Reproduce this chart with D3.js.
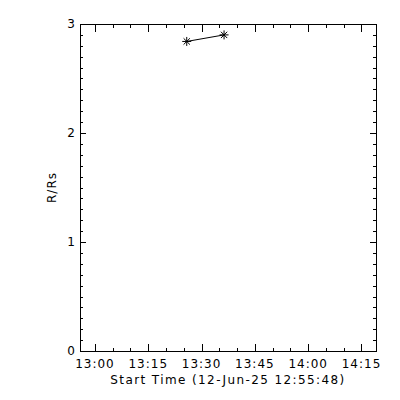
<!DOCTYPE html>
<html lang="en">
<head>
    <meta charset="UTF-8">
    <title>R/Rs vs time</title>
    <script src="https://d3js.org/d3.v7.min.js"></script>
    <style>
        body { margin: 0; background: #fff; }
        text { font-family: "DejaVu Sans", sans-serif; font-size: 12px; fill: #000; letter-spacing: 1px; }
        text.title { letter-spacing: 1.4px; }
    </style>
</head>
<body>
<svg id="chart" width="400" height="400"></svg>
<script>
    // data
    const startLabel = '12-Jun-25 12:55:48';
    const domainStart = '2025-06-12 12:55:48';
    const domainEnd = '2025-06-12 14:19:05';
    const times = ['2025-06-12 13:25:50', '2025-06-12 13:36:20'];
    const heights = [2.84, 2.90];
    const yTicks = [0, 1, 2, 3];

    const parse = d3.utcParse('%Y-%m-%d %H:%M:%S');
    const points = times.map((t, i) => ({ t: parse(t), r: heights[i] }));

    const svg = d3.select('#chart');
    const mLeft = 80, mRight = 376, mTop = 24, mBottom = 351;

    const x = d3.scaleUtc().domain([parse(domainStart), parse(domainEnd)]).range([mLeft, mRight]);
    const y = d3.scaleLinear().domain([0, 3]).range([mBottom, mTop]);

    const g = svg.append('g').attr('shape-rendering', 'crispEdges');

    // box
    g.append('rect')
        .attr('x', mLeft + 0.5).attr('y', mTop + 0.5)
        .attr('width', mRight - mLeft).attr('height', mBottom - mTop)
        .attr('fill', 'none').attr('stroke', '#000');

    // x ticks, bottom and top
    const xMajor = x.ticks(d3.utcMinute.every(15));
    const xMinor = x.ticks(d3.utcMinute.every(5));
    xMinor.forEach(d => {
        const big = xMajor.some(m => +m === +d);
        const len = big ? 7 : 3;
        const px = Math.round(x(d)) + 0.5;
        g.append('line').attr('x1', px).attr('x2', px).attr('y1', mBottom).attr('y2', mBottom - len).attr('stroke', '#000');
        g.append('line').attr('x1', px).attr('x2', px).attr('y1', mTop + 1).attr('y2', mTop + 1 + len).attr('stroke', '#000');
    });
    svg.selectAll('.xlab').data(xMajor).enter().append('text')
        .attr('x', d => x(d)).attr('y', 368)
        .attr('text-anchor', 'middle')
        .text(d3.utcFormat('%H:%M'));

    // y ticks, left and right
    const yMinor = d3.range(0, 31).map(i => i / 10);
    yMinor.forEach(d => {
        const big = yTicks.includes(d);
        const len = big ? 6 : 3;
        const py = Math.round(y(d)) + 0.5;
        g.append('line').attr('x1', mLeft).attr('x2', mLeft + len).attr('y1', py).attr('y2', py).attr('stroke', '#000');
        g.append('line').attr('x1', mRight).attr('x2', mRight - len).attr('y1', py).attr('y2', py).attr('stroke', '#000');
    });
    svg.selectAll('.ylab').data(yTicks).enter().append('text')
        .attr('x', 76).attr('y', d => y(d) + 4)
        .attr('text-anchor', 'end')
        .text(d => d);

    // axis titles
    svg.append('text').attr('class', 'title')
        .attr('x', (mLeft + mRight) / 2).attr('y', 384)
        .attr('text-anchor', 'middle')
        .text(`Start Time (${startLabel})`);
    svg.append('text')
        .attr('transform', `translate(56,${(mTop + mBottom) / 2}) rotate(-90)`)
        .attr('text-anchor', 'middle')
        .text('R/Rs');

    // line and asterisks
    const line = d3.line().x(d => x(d.t)).y(d => y(d.r));
    svg.append('path').datum(points)
        .attr('d', line).attr('fill', 'none').attr('stroke', '#000');

    const star = 4.5;
    const starPath = `M${-star},0H${star}M0,${-star}V${star}` +
        `M${-star * 0.7},${-star * 0.7}L${star * 0.7},${star * 0.7}` +
        `M${-star * 0.7},${star * 0.7}L${star * 0.7},${-star * 0.7}`;
    svg.selectAll('.pt').data(points).enter().append('path')
        .attr('transform', d => `translate(${x(d.t)},${y(d.r)})`)
        .attr('d', starPath)
        .attr('fill', 'none').attr('stroke', '#000');
</script>
</body>
</html>
